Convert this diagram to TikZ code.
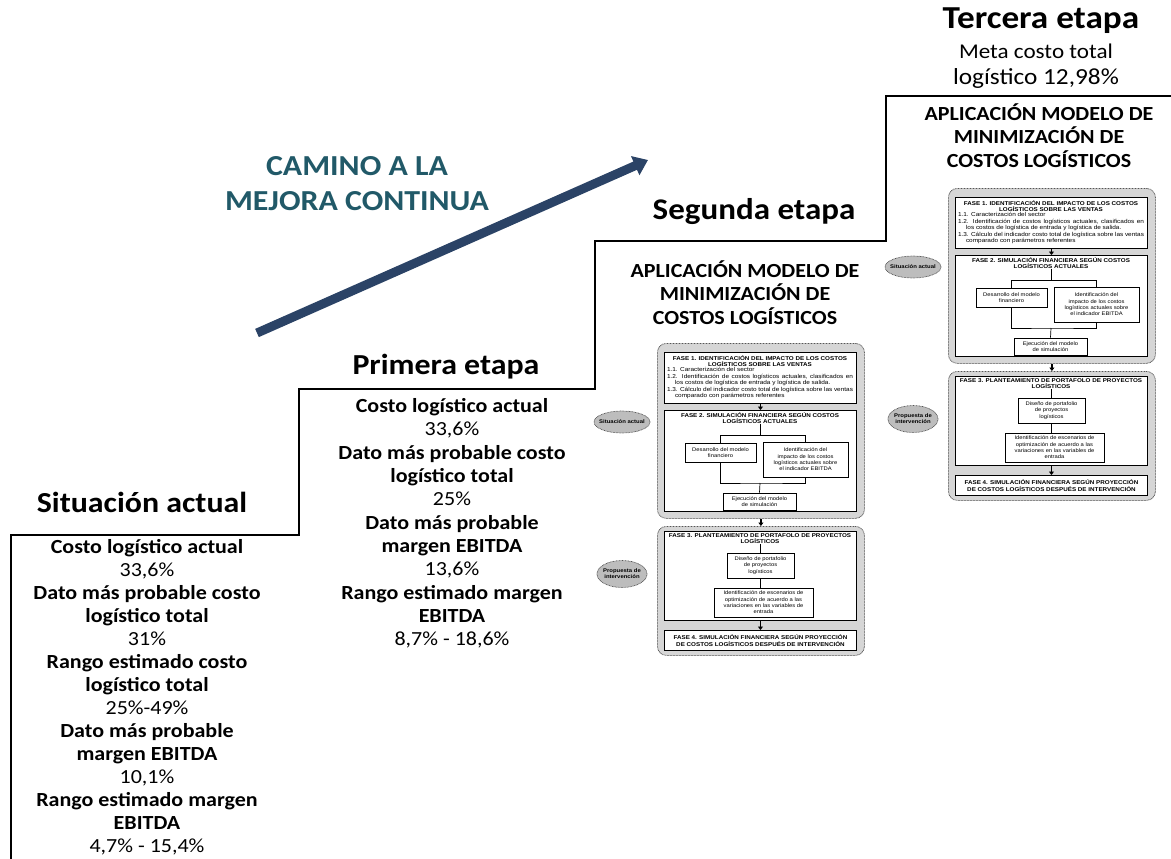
\documentclass[tikz,border=0pt]{standalone}
\usepackage{fontspec}
\usetikzlibrary{arrows.meta,shapes.geometric}
\newfontfamily\calfont{Carlito}[FakeStretch=1.1]
\newfontfamily\arfont{Liberation Sans}[FakeStretch=1.12]
\definecolor{tealtxt}{HTML}{215968}
\definecolor{navyarrow}{HTML}{2B4366}
\definecolor{panelgray}{HTML}{D6D6D6}
\definecolor{ellgray}{HTML}{BDBDBD}
\definecolor{dotgray}{HTML}{555555}
\tikzset{
  stagehead/.style={font=\calfont\bfseries\fontsize{29}{34}\selectfont, anchor=base, inner sep=0pt},
  bodytxt/.style={font=\calfont\fontsize{20}{23.3}\selectfont, align=center, anchor=north, inner sep=0pt},
  apphead/.style={font=\calfont\bfseries\fontsize{20}{23.3}\selectfont, align=center, anchor=north, inner sep=0pt},
  metatxt/.style={font=\calfont\fontsize{21}{26}\selectfont, align=center, anchor=north, inner sep=0pt},
  caminotxt/.style={font=\calfont\bfseries\fontsize{29}{35}\selectfont, text=tealtxt, align=center, anchor=north, inner sep=0pt},
  stair/.style={draw=black, line width=1.3pt},
  bigarrow/.style={draw=navyarrow, line width=9pt, -{Triangle[length=14pt,width=20pt]}},
  panel/.style={draw=dotgray, fill=panelgray, line width=0.8pt, dash pattern=on 0.8pt off 0.7pt, rounded corners=9pt, minimum width=207pt, anchor=north west, inner sep=0pt},
  phasebox/.style={draw=black, fill=white, line width=0.9pt, anchor=north west, inner sep=0pt, minimum width=192pt},
  subbox/.style={draw=black, fill=white, line width=0.7pt, inner sep=0pt, align=center, font=\arfont\fontsize{5.2}{6.4}\selectfont},
  minititle/.style={font=\arfont\bfseries\fontsize{5.6}{6.3}\selectfont, align=center, inner sep=0pt, anchor=north},
  miniitems/.style={font=\arfont\fontsize{5.75}{6.4}\selectfont, text width=186pt, align=justify, inner sep=0pt, anchor=north},
  stateell/.style={ellipse, draw=dotgray, fill=ellgray, line width=0.7pt, dash pattern=on 0.8pt off 0.7pt, inner sep=0pt},
  statetxt/.style={align=center, inner sep=0pt, font=\arfont\bfseries\fontsize{5.3}{6.2}\selectfont},
  flowline/.style={draw=black, line width=0.7pt},
  downarrow/.style={draw=black, line width=1.6pt, -{Triangle[length=3.5pt,width=5pt]}},
}
\newcommand\minidiagram[3]{%
\begin{scope}[shift={(#2,#3)}]
\node[panel, minimum height=175pt] (#1o1) at (657,343) {};
\node[panel, minimum height=129pt] (#1o2) at (657,526) {};
\node[phasebox, minimum height=51pt] (#1p1) at (664,352) {};
\node[phasebox, minimum height=101pt] (#1p2) at (664,410) {};
\node[phasebox, minimum height=89pt] (#1p3) at (664,531) {};
\node[phasebox, minimum height=20pt] (#1p4) at (664,630) {};
% phase 1
\node[minititle] (#1t1) at (760,355) {FASE 1. IDENTIFICACIÓN DEL IMPACTO DE LOS COSTOS\\LOGÍSTICOS SOBRE LAS VENTAS};
\node[miniitems] (#1l1) at (760,367.5) {\noindent\hangindent=8pt\hangafter=1 1.1. Caracterización del sector\par
\noindent\hangindent=8pt\hangafter=1 1.2. Identificación de costos logísticos actuales, clasificados en\linebreak los costos de logística de entrada y logística de salida.\par
\noindent\hangindent=8pt\hangafter=1 1.3. Cálculo del indicador costo total de logística sobre las ventas\linebreak comparado con parámetros referentes\par};
% phase 2
\node[minititle] (#1t2) at (760,412) {FASE 2. SIMULACIÓN FINANCIERA SEGÚN COSTOS\\LOGÍSTICOS ACTUALES};
\coordinate (#1j1) at (760,435);
\node[subbox, minimum width=71pt, minimum height=19pt] (#1des) at (720.5,452.5) {Desarrollo del modelo\\financiero};
\node[subbox, minimum width=85pt, minimum height=35pt] (#1ide) at (805.5,459.5) {Identificación del\\impacto de los costos\\logísticos actuales sobre\\el indicador EBITDA};
\coordinate (#1j2) at (760,483);
\node[subbox, minimum width=73pt, minimum height=17pt] (#1eje) at (759.5,501.5) {Ejecución del modelo\\de simulación};
\draw[flowline] (#1t2.south) -- (#1j1) -| (#1des.north);
\draw[flowline] (#1j1) -| (#1ide.north);
\draw[flowline] (#1des.south) |- (#1j2) -| (#1ide.south);
\draw[flowline] (#1j2) -- (#1eje.north);
% phase 3
\node[minititle] (#1t3) at (760,533.5) {FASE 3. PLANTEAMIENTO DE PORTAFOLO DE PROYECTOS\\LOGÍSTICOS};
\node[subbox, minimum width=67pt, minimum height=25pt] (#1dis) at (760.5,565.5) {Diseño de portafolio\\de proyectos\\logísticos};
\node[subbox, minimum width=99pt, minimum height=29pt] (#1esc) at (763.5,602.5) {Identificación de escenarios de\\optimización de acuerdo a las\\variaciones en las variables de\\entrada};
\draw[flowline] (#1t3.south) -- (#1t3.south |- #1dis.north);
\draw[flowline] (#1dis.south) -- (#1dis.south |- #1esc.north);
% phase 4
\node[minititle, anchor=center] (#1t4) at (#1p4.center) {FASE 4. SIMULACIÓN FINANCIERA SEGÚN PROYECCIÓN\\DE COSTOS LOGÍSTICOS DESPUÉS DE INTERVENCIÓN};
% arrows
\draw[downarrow] (#1p1.south) -- (#1p2.north);
\draw[downarrow] (#1o1.south) -- (#1o2.north);
\draw[downarrow] (#1p3.south) -- (#1p4.north);
% state ellipses
\node[stateell, minimum width=56pt, minimum height=22pt] (#1e1) at (622,422) {};
\node[statetxt] (#1e1t) at (#1e1.center) {Situación actual};
\node[stateell, minimum width=50pt, minimum height=27pt] (#1e2) at (622,574) {};
\node[statetxt] (#1e2t) at (#1e2.center) {Propuesta de\\intervención};
\end{scope}}

\begin{document}
\begin{tikzpicture}[x=1pt,y=-1pt]
\useasboundingbox (0,0) rectangle (1171,859);
% staircase
\draw[stair] (11,859) -- (11,535) -- (299,535) -- (299,389) -- (595,389) -- (595,241) -- (886,241) -- (886,96) -- (1171,96);
% arrow and title
\coordinate (atail) at (257,333);
\coordinate (ahead) at (648,160);
\draw[bigarrow] (atail) -- (ahead);
\node[caminotxt] (camino) at (357,156) {CAMINO A LA\\MEJORA CONTINUA};
% stage headings
\node[stagehead] (hsit) at (142,512) {Situación actual};
\node[stagehead] (hpri) at (446,374) {Primera etapa};
\node[stagehead, font=\calfont\bfseries\fontsize{30}{34}\selectfont] (hseg) at (754,219) {Segunda etapa};
\node[stagehead, font=\calfont\bfseries\fontsize{32}{36}\selectfont] (hter) at (1041,29) {Tercera etapa};
\node[metatxt] (meta) at (1036,44) {Meta costo total\\{\fontsize{23}{26}\selectfont logístico 12,98\%}};
% columns
\node[bodytxt, font=\calfont\fontsize{20}{23}\selectfont] (csit) at (147,539.5) {\textbf{Costo logístico actual}\\33,6\%\\\textbf{Dato más probable costo}\\\textbf{logístico total}\\31\%\\\textbf{Rango estimado costo}\\\textbf{logístico total}\\25\%-49\%\\\textbf{Dato más probable}\\\textbf{margen EBITDA}\\10,1\%\\\textbf{Rango estimado margen}\\\textbf{EBITDA}\\4,7\% - 15,4\%};
\node[bodytxt] (cpri) at (452,398.4) {\textbf{Costo logístico actual}\\33,6\%\\\textbf{Dato más probable costo}\\\textbf{logístico total}\\25\%\\\textbf{Dato más probable}\\\textbf{margen EBITDA}\\13,6\%\\\textbf{Rango estimado margen}\\\textbf{EBITDA}\\8,7\% - 18,6\%};
% application headings
\node[apphead] (aseg) at (745,260.5) {APLICACIÓN MODELO DE\\MINIMIZACIÓN DE\\COSTOS LOGÍSTICOS};
\node[apphead] (ater) at (1039,103.5) {APLICACIÓN MODELO DE\\MINIMIZACIÓN DE\\COSTOS LOGÍSTICOS};
% mini diagrams
\minidiagram{L}{0}{0}
\minidiagram{R}{291}{-155}
\end{tikzpicture}
\end{document}
